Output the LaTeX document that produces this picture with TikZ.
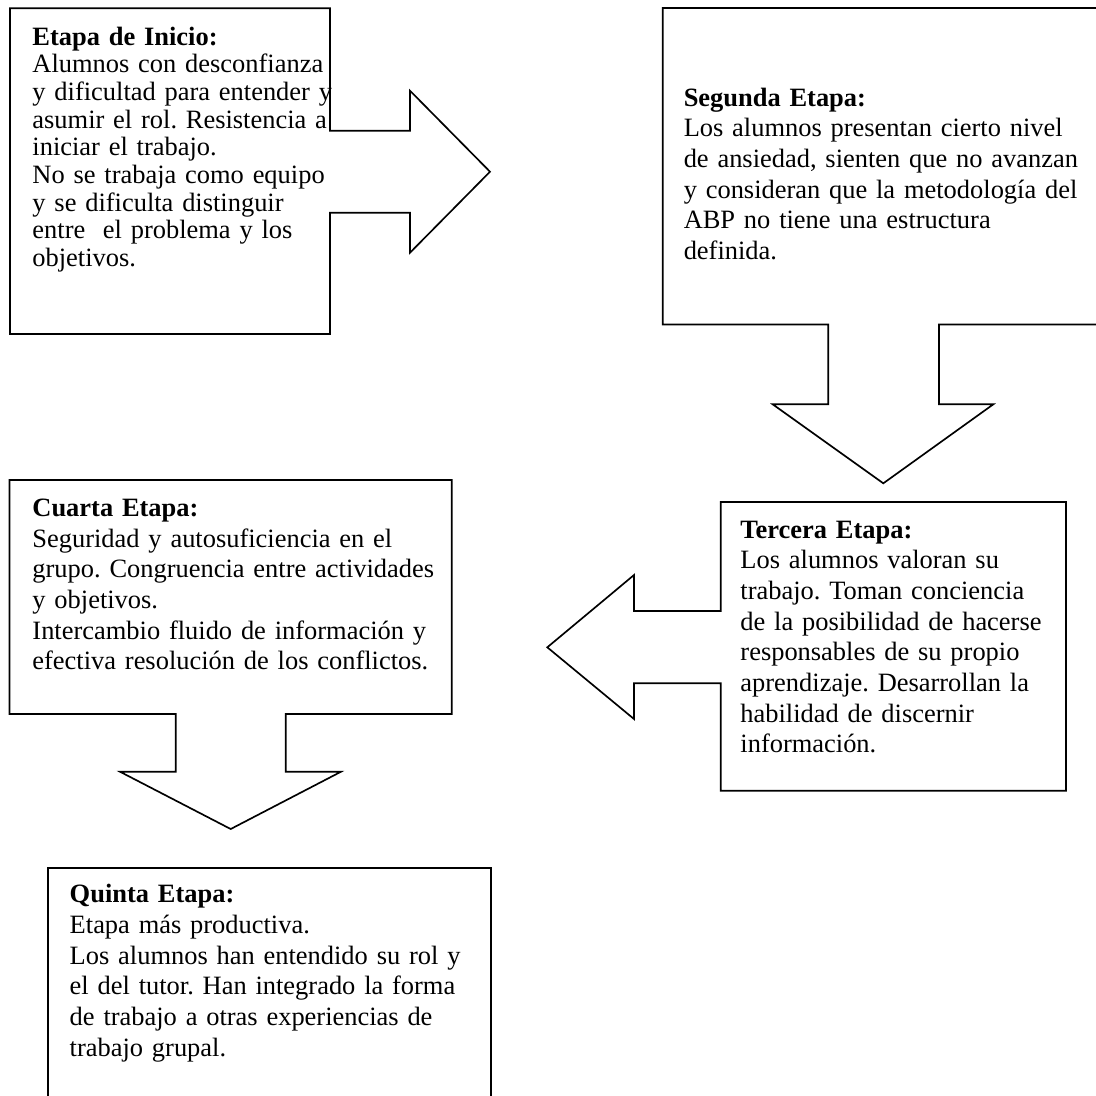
\documentclass[tikz,border=0pt]{standalone}
\usepackage{fontspec}
\setmainfont[WordSpace=0.7]{Liberation Serif}
\frenchspacing
\begin{document}
\begin{tikzpicture}[x=0.45pt,y=-0.45pt,
  outline/.style={draw=black,line width=0.75pt,line join=miter},
  etext/.style={anchor=base west,inner sep=0pt,text width=220pt,align=left,
    font=\fontsize{11.9pt}{13.8pt}\selectfont},
  tight/.style={font=\fontsize{11.9pt}{12.47pt}\selectfont}]
\fill[white] (0,0) rectangle (1096,1095);
\useasboundingbox (0,0) rectangle (1096,1095);

% Etapa de Inicio + right arrow
\draw[outline] (10,8.3) -- (330,8.3) -- (330,130.7) -- (410,130.7) -- (410,90.7)
  -- (490,171.7) -- (410,252.7) -- (410,212.7) -- (330,212.7) -- (330,334)
  -- (10,334) -- cycle;
% Segunda Etapa + down arrow
\draw[outline] (662.7,8) -- (1100,8) -- (1100,324.5) -- (939,324.5) -- (939,404.3)
  -- (993.3,404.3) -- (883.3,483.3) -- (772.7,404.3) -- (828.3,404.3)
  -- (828.3,324.5) -- (662.7,324.5) -- cycle;
% Tercera Etapa + left arrow
\draw[outline] (720.7,502) -- (1066,502) -- (1066,790.7) -- (720.7,790.7)
  -- (720.7,683.3) -- (634,683.3) -- (634,719) -- (547.3,647.3) -- (634,575)
  -- (634,611) -- (720.7,611) -- cycle;
% Cuarta Etapa + down arrow
\draw[outline] (9.5,480) -- (451.7,480) -- (451.7,714) -- (285.7,714) -- (285.7,771.7)
  -- (341,771.7) -- (230.7,829) -- (120,771.7) -- (175.7,771.7) -- (175.7,714)
  -- (9.5,714) -- cycle;
% Quinta Etapa
\draw[outline] (48.3,1110) -- (48.3,867.7) -- (490.7,867.7) -- (490.7,1110);

\node[etext,tight] (inicio) at (32,45) {\textbf{Etapa de Inicio:}\\
Alumnos con desconfianza\\
y dificultad para entender y\\
asumir el rol. Resistencia a\\
iniciar el trabajo.\\
No se trabaja como equipo\\
y se dificulta distinguir\\
entre~ el problema y los\\
objetivos.};

\node[etext] (segunda) at (683.3,106) {\textbf{Segunda Etapa:}\\
Los alumnos presentan cierto nivel\\
de ansiedad, sienten que no avanzan\\
y consideran que la metodología del\\
ABP no tiene una estructura\\
definida.};

\node[etext] (tercera) at (740,538) {\textbf{Tercera Etapa:}\\
Los alumnos valoran su\\
trabajo. Toman conciencia\\
de la posibilidad de hacerse\\
responsables de su propio\\
aprendizaje. Desarrollan la\\
habilidad de discernir\\
información.};

\node[etext] (cuarta) at (32,516.5) {\textbf{Cuarta Etapa:}\\
Seguridad y autosuficiencia en el\\
grupo. Congruencia entre actividades\\
y objetivos.\\
Intercambio fluido de información y\\
efectiva resolución de los conflictos.};

\node[etext] (quinta) at (69.3,902.7) {\textbf{Quinta Etapa:}\\
Etapa más productiva.\\
Los alumnos han entendido su rol y\\
el del tutor. Han integrado la forma\\
de trabajo a otras experiencias de\\
trabajo grupal.};
\end{tikzpicture}
\end{document}
